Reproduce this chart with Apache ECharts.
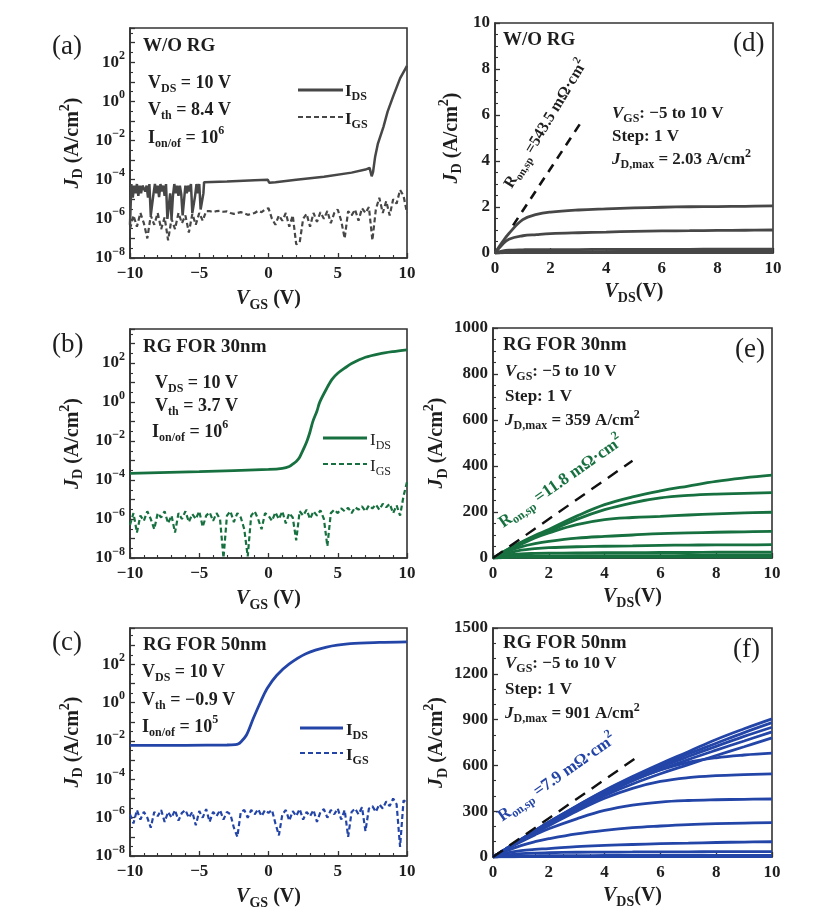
<!DOCTYPE html>
<html><head><meta charset="utf-8">
<script src="https://cdn.jsdelivr.net/npm/echarts@6/dist/echarts.min.js"></script>
<style>html,body{margin:0;padding:0;background:#fff}#c{width:831px;height:924px}</style>
</head><body><div id="c"></div>
<script>
// ---------- transfer characteristics (a,b,c): V_GS (V) vs J (A/cm^2) ----------
const vgsGrid = [
  -10,-9.75,-9.5,-9.25,-9,-8.75,-8.5,-8.25,-8,-7.75,
  -7.5,-7.25,-7,-6.75,-6.5,-6.25,-6,-5.75,-5.5,-5.25,
  -5,-4.75,-4.5,-4.25,-4,-3.75,-3.5,-3.25,-3,-2.75,
  -2.5,-2.25,-2,-1.75,-1.5,-1.25,-1,-0.75,-0.5,-0.25,
  0,0.25,0.5,0.75,1,1.25,1.5,1.75,2,2.25,
  2.5,2.75,3,3.25,3.5,3.75,4,4.25,4.5,4.75,
  5,5.25,5.5,5.75,6,6.25,6.5,6.75,7,7.25,
  7.5,7.75,8,8.25,8.5,8.75,9,9.25,9.5,9.75,
  10];

const vgsA = [
  -10,-9.9,-9.8,-9.7,-9.6,-9.5,-9.4,-9.3,-9.2,-9.1,
  -9,-8.9,-8.8,-8.7,-8.6,-8.5,-8.4,-8.3,-8.2,-8.1,
  -8,-7.9,-7.8,-7.7,-7.6,-7.5,-7.4,-7.3,-7.2,-7.1,
  -7,-6.9,-6.8,-6.7,-6.6,-6.5,-6.4,-6.3,-6.2,-6.1,
  -6,-5.9,-5.8,-5.7,-5.6,-5.5,-5.4,-5.3,-5.2,-5.1,
  -5,-4.9,-4.8,-4.7,
  -4.65,-3,-1,-0.05,0.05,0.5,2,4,6,7,7.3,7.45,7.55,7.7,7.9,8.3,8.6,9,9.5,10];
const idsA = [
  5e-7,6e-5,1.2e-5,5e-5,2e-5,6e-5,1.5e-5,5e-5,2e-5,5e-5,
  6e-5,2.5e-5,5e-5,1.2e-5,6e-5,1.5e-6,1.5e-6,2e-5,6e-5,2e-5,
  5e-5,1.3e-5,6e-5,2.5e-5,5e-5,1.5e-5,6e-5,1e-6,1e-6,2e-5,
  1e-6,1.5e-5,6e-5,2e-5,5e-5,1.5e-5,5e-5,1.8e-5,1.5e-6,1.5e-6,
  5e-5,2e-5,5e-5,2.5e-5,6e-5,2e-6,2e-6,1.5e-5,6e-5,2e-5,
  6e-5,3e-6,3e-6,2e-5,
  7.5e-5,8e-5,9.5e-5,1e-4,7e-5,7.5e-5,1e-4,1.4e-4,2.3e-4,3.3e-4,4e-4,1.5e-4,2.5e-4,1.5e-3,7e-3,5e-2,0.3,1.8,15,65];
const igsA = [
  3e-7,1.5e-6,4e-7,2e-6,6e-7,1e-7,1.5e-6,5e-7,2e-6,3e-7,
  1.2e-6,8e-8,1e-6,3e-7,2e-6,6e-7,1.5e-6,2e-7,1.8e-6,5e-7,
  2e-6,8e-7,2.5e-6,2.5e-6,2.2e-6,2.5e-6,2.6e-6,2.3e-6,2.4e-6,2e-6,
  1.8e-6,2e-6,2.2e-6,1.9e-6,1.6e-6,1.8e-6,2e-6,2.6e-6,2.2e-6,3e-6,
  3.5e-6,1e-6,5e-7,1.5e-6,8e-7,2e-6,4e-7,1.5e-6,5e-8,6e-8,
  1e-6,1.8e-6,4e-7,2e-6,7e-7,2.2e-6,1e-6,2.5e-6,6e-7,2e-6,
  3e-6,8e-7,1e-7,2.5e-6,1.5e-6,3e-6,8e-7,3.5e-6,2e-6,4e-6,
  8e-8,3e-6,1.2e-5,2e-6,8e-6,1.5e-6,1e-5,6e-6,3e-5,1.5e-5,
  2e-6];

const vgsB = [-10,-5,0,1,1.5,1.8,2,2.2,2.4,2.6,2.8,3,3.2,3.5,3.7,4.2,4.6,5,5.5,6,7,8,9,10];
const idsB = [2.2e-4,2.7e-4,3.5e-4,4e-4,5e-4,7e-4,9e-4,1.3e-3,2.5e-3,5e-3,1.1e-2,3e-2,0.1,0.35,1.0,5,15,30,55,95,200,300,390,480];
const igsB = [
  5e-7,2e-6,2e-7,1.5e-6,8e-7,2.5e-6,1e-6,3e-7,2e-6,1.2e-6,
  2.5e-6,6e-7,1.5e-6,2e-7,2e-6,1e-6,2.5e-6,7e-7,1.8e-6,1e-6,
  2.5e-6,4e-7,1.5e-6,2.2e-6,8e-7,2e-6,1e-6,1e-8,1.5e-6,2.5e-6,
  7e-7,2e-6,1.2e-6,3e-7,1.2e-8,1.5e-6,2.5e-6,1e-6,3e-7,2e-6,
  1.5e-6,8e-7,2.2e-6,1e-6,2.5e-6,6e-7,2e-6,1.2e-6,8e-8,2.5e-6,
  1.5e-6,3e-6,1e-6,2.5e-6,1.5e-6,2.8e-6,1e-6,4e-8,2e-6,3e-6,
  2e-6,3.5e-6,2.5e-6,3.8e-6,2e-6,4e-6,3e-6,4.5e-6,2.5e-6,5e-6,
  3.5e-6,5.5e-6,3e-6,6e-6,4e-6,6e-6,2e-6,5e-6,1.5e-6,1.5e-5,
  8e-5];

const vgsC = [-10,-6,-3,-2.4,-2.2,-2,-1.6,-1.1,-0.6,-0.1,0.6,1.5,2.7,4.2,5.9,8,10];
const idsC = [6e-3,6e-3,6.2e-3,6.5e-3,7e-3,9e-3,2e-2,0.15,1,5.5,27,105,360,800,1200,1400,1500];
const igsC = [
  1.5e-6,5e-7,2.5e-6,8e-7,2e-6,1e-6,3e-7,2e-6,1.2e-6,2.5e-6,
  6e-7,2e-6,1e-6,2.5e-6,7e-7,1.8e-6,2.5e-6,1e-6,2e-6,4e-7,
  2.2e-6,1e-6,2.8e-6,6e-7,2e-6,1.2e-6,2.5e-6,8e-7,2e-6,1.5e-6,
  3e-7,1e-7,2e-6,2.5e-6,1e-6,2.5e-6,1.5e-6,2.8e-6,1.2e-6,2.5e-6,
  1.8e-6,2.5e-6,5e-7,1.2e-7,1.5e-6,2.5e-6,7e-7,2.2e-6,1.2e-6,2.8e-6,
  8e-7,2e-6,1.2e-6,2.5e-6,6e-7,2e-6,2.8e-6,1e-6,2.5e-6,1.5e-6,
  3e-6,8e-7,2.5e-6,1e-7,2e-6,3e-6,1.5e-6,3.5e-6,2e-7,3e-6,
  4e-6,2e-6,5e-6,3e-6,7e-6,4e-6,1e-5,5e-6,3e-8,8e-6,
  6e-6];

// ---------- output characteristics (d,e,f): V_DS (V) vs J_D (A/cm^2) ----------
const vdsGrid = [0,0.25,0.5,1,1.5,2,3,4,5,6,7,8,9,10];
const outD = [
  [0,0.45,0.85,1.45,1.68,1.78,1.87,1.92,1.96,1.99,2.01,2.02,2.03,2.05],
  [0,0.35,0.6,0.75,0.8,0.84,0.88,0.91,0.94,0.96,0.97,0.98,0.99,1.0],
  [0,0.08,0.12,0.14,0.15,0.15,0.15,0.16,0.16,0.16,0.16,0.17,0.17,0.17],
  [0,0.03,0.05,0.06,0.06,0.06,0.06,0.06,0.07,0.07,0.07,0.07,0.07,0.07],
  [0,0.01,0.02,0.02,0.02,0.02,0.02,0.02,0.02,0.02,0.02,0.02,0.02,0.02]];
const outE = [
  [0,18,36,68,98,124,182,232,266,292,313,333,348,360],
  [0,17,35,66,94,116,168,210,240,261,272,278,281,284],
  [0,16,33,60,87,109,145,167,176,181,187,192,196,199],
  [0,14,28,48,62,72,86,94,100,106,109,112,114,116],
  [0,10,20,34,41,45,49,51,53,55,56,57,57,58],
  [0,7,13,18,20,21,22,23,23,24,24,25,25,25],
  [0,4,6,8,9,9,10,10,10,10,11,11,11,11],
  [0,1,2,3,3,3,3,4,4,4,4,4,4,4]];
const outF = [
  [0,28,57,115,172,229,335,436,527,611,690,770,840,905],
  [0,28,57,115,172,228,333,432,520,600,675,745,815,880],
  [0,28,57,114,170,226,330,426,512,588,658,725,790,850],
  [0,28,56,113,168,223,325,418,500,572,638,700,760,820],
  [0,27,55,110,164,217,316,402,478,545,605,665,722,780],
  [0,27,55,110,163,215,318,410,500,570,620,650,668,680],
  [0,27,54,108,158,205,300,385,450,495,520,533,540,545],
  [0,26,52,100,145,185,250,305,340,360,370,375,378,380],
  [0,22,42,75,100,120,152,175,192,203,212,218,222,225],
  [0,15,27,42,50,55,68,76,82,87,91,95,98,100],
  [0,8,14,22,26,28,31,32,33,34,34,35,35,35],
  [0,3,5,7,8,9,9,10,10,10,10,10,10,10],
  [0,1,1,2,2,2,3,3,3,3,3,3,3,3]];
const ronD = [[0.65,1.2],[3.05,5.6]];
const ronE = [[0,0],[5,423]];
const ronF = [[0,0],[5.25,665]];

// ---------- styling ----------
const FONT = 'Liberation Serif';
const INK = '#1e1e1e', AX = '#333';
const GRAY = '#474747', GREEN = '#17703f', BLUE = '#2445a8';

function rich(color, size) {
  const base = {fontFamily: FONT, fontWeight: 'bold', color: color, fill: color};
  const sm = Math.round(size * 0.68);
  return {
    b: Object.assign({}, base, {fontSize: size}),
    n: Object.assign({}, base, {fontWeight: 'normal', fontSize: size}),
    i: Object.assign({}, base, {fontStyle: 'italic', fontSize: size}),
    s: Object.assign({}, base, {fontSize: sm, padding: [Math.round(size * 0.6), 0, 0, 0]}),
    sn: Object.assign({}, base, {fontWeight: 'normal', fontSize: sm, padding: [Math.round(size * 0.6), 0, 0, 0]}),
    p: Object.assign({}, base, {fontSize: sm, padding: [0, 0, Math.round(size * 0.75), 0]})
  };
}
function txt(x, y, text, color, size, extra) {
  const el = {type: 'text', x: x, y: y, silent: true, z: 100,
    style: {text: text, fill: color, fontFamily: FONT, fontSize: size, fontWeight: 'bold',
      rich: rich(color, size), align: 'left', verticalAlign: 'middle'}};
  if (extra) { if (extra.rotation !== undefined) { el.rotation = extra.rotation; el.style.align = 'center'; } }
  return el;
}
function seg(x1, y1, x2, y2, color, dash) {
  return {type: 'line', silent: true, z: 100, shape: {x1: x1, y1: y1, x2: x2, y2: y2},
    style: {stroke: color, lineWidth: dash ? 2 : 2.8, lineDash: dash ? [5, 3] : null}};
}
const minus = v => v < 0 ? '\u2212' + (-v) : String(v);

const grids = [
  {left: 130, top: 28, width: 277, height: 230},
  {left: 130, top: 329, width: 277, height: 229},
  {left: 130, top: 628, width: 277, height: 228},
  {left: 495, top: 23, width: 278, height: 230},
  {left: 493, top: 328, width: 279, height: 230},
  {left: 493, top: 628, width: 279, height: 229}
].map(g => Object.assign(g, {show: true, borderColor: AX, borderWidth: 1.6, backgroundColor: 'transparent', outerBoundsMode: 'none', containLabel: false}));

function common(gi) {
  return {gridIndex: gi, type: 'value',
    axisLine: {show: true, onZero: false, lineStyle: {color: AX, width: 1.6}},
    axisTick: {show: true, inside: true, length: 5, lineStyle: {color: AX, width: 1.3}},
    minorTick: {show: true, length: 3, lineStyle: {color: AX, width: 1.1}},
    splitLine: {show: false}, minorSplitLine: {show: false}};
}
function xAx(gi, min, max, interval, split, nameTxt, gap) {
  const a = common(gi);
  Object.assign(a, {min: min, max: max, interval: interval});
  a.minorTick.splitNumber = split;
  a.axisLabel = {margin: 7, formatter: v => '{b|' + minus(v) + '}', rich: rich(INK, 17)};
  a.name = nameTxt; a.nameLocation = 'middle'; a.nameGap = gap;
  a.nameTextStyle = {rich: rich(INK, 20)};
  return a;
}
function logY(gi, max) {
  const a = common(gi);
  Object.assign(a, {min: -8, max: max, interval: 1});
  a.minorTick.splitNumber = 2;
  a.axisLabel = {margin: 5, formatter: v => (Number.isInteger(v) && v % 2 === 0) ? '{b|10}{p|' + minus(v) + '}' : '', rich: rich(INK, 17)};
  a.name = '{i|J}{s|D}{b| (A/cm}{p|2}{b|)}'; a.nameLocation = 'middle'; a.nameGap = 43; a.nameRotate = 90;
  a.nameTextStyle = {rich: rich(INK, 20)};
  return a;
}
function linY(gi, max, interval, split, gap) {
  const a = common(gi);
  Object.assign(a, {min: 0, max: max, interval: interval});
  a.minorTick.splitNumber = split;
  a.axisLabel = {margin: 5, formatter: v => '{b|' + v + '}', rich: rich(INK, 17)};
  a.name = '{i|J}{s|D}{b| (A/cm}{p|2}{b|)}'; a.nameLocation = 'middle'; a.nameGap = gap; a.nameRotate = 90;
  a.nameTextStyle = {rich: rich(INK, 20)};
  return a;
}

const VGS_NAME = '{i|V}{s|GS}{b| (V)}';
const VDS_NAME = '{i|V}{s|DS}{b|(V)}';
const xAxis = [
  xAx(0, -10, 10, 5, 5, VGS_NAME, 28),
  xAx(1, -10, 10, 5, 5, VGS_NAME, 28),
  xAx(2, -10, 10, 5, 5, VGS_NAME, 28),
  xAx(3, 0, 10, 2, 4, VDS_NAME, 26),
  xAx(4, 0, 10, 2, 4, VDS_NAME, 26),
  xAx(5, 0, 10, 2, 4, VDS_NAME, 26)
];
const yAxis = [
  logY(0, 3.75), logY(1, 3.75), logY(2, 3.9),
  linY(3, 10, 2, 4, 29), linY(4, 1000, 200, 4, 31), linY(5, 1500, 300, 3, 29)
];

const logPairs = (xs, ys) => xs.map((x, i) => [x, Math.log10(ys[i])]);
const pairs = (xs, ys) => xs.map((x, i) => [x, ys[i]]);
function line(gi, data, color, width, dash, smooth) {
  return {type: 'line', xAxisIndex: gi, yAxisIndex: gi, data: data, showSymbol: false, symbol: 'none',
    smooth: smooth || false, silent: true, animation: false, clip: true,
    lineStyle: {color: color, width: width, type: dash || 'solid'}};
}

const series = [
  line(0, logPairs(vgsA, idsA), GRAY, 2.5),
  line(0, logPairs(vgsGrid, igsA), GRAY, 2.2, [5, 3]),
  line(1, logPairs(vgsB, idsB), GREEN, 2.8, null, 0.3),
  line(1, logPairs(vgsGrid, igsB), GREEN, 2.2, [5, 3]),
  line(2, logPairs(vgsC, idsC), BLUE, 2.8, null, 0.3),
  line(2, logPairs(vgsGrid, igsC), BLUE, 2.2, [5, 3])
];
outD.forEach(c => series.push(line(3, pairs(vdsGrid, c), GRAY, 2.8, null, 0.4)));
outE.forEach(c => series.push(line(4, pairs(vdsGrid, c), GREEN, 2.8, null, 0.4)));
outF.forEach(c => series.push(line(5, pairs(vdsGrid, c), BLUE, 2.8, null, 0.4)));
series.push(line(3, ronD, '#111', 2.6, [9, 7]));
series.push(line(4, ronE, '#111', 2.4, [12, 8]));
series.push(line(5, ronF, '#111', 2.4, [12, 8]));

const deg = Math.PI / 180;
const graphic = [
  // (a)
  txt(52, 47, '{n|(a)}', INK, 27),
  txt(143, 46, '{b|W/O RG}', INK, 19),
  txt(148, 83, '{b|V}{s|DS}{b| = 10 V}', INK, 18),
  txt(148, 110, '{b|V}{s|th}{b| = 8.4 V}', INK, 18),
  txt(148, 138, '{b|I}{s|on/of}{b| = 10}{p|6}', INK, 18),
  seg(298, 90, 343, 90, GRAY, false), txt(345, 92, '{b|I}{s|DS}', INK, 17),
  seg(298, 117, 343, 117, GRAY, true), txt(345, 120, '{b|I}{s|GS}', INK, 17),
  // (b)
  txt(52, 345, '{n|(b)}', INK, 27),
  txt(143, 347, '{b|RG FOR 30nm}', INK, 19),
  txt(155, 383, '{b|V}{s|DS}{b| = 10 V}', INK, 18),
  txt(155, 406, '{b|V}{s|th}{b| = 3.7 V}', INK, 18),
  txt(152, 432, '{b|I}{s|on/of}{b| = 10}{p|6}', INK, 18),
  seg(323, 438, 367, 438, GREEN, false), txt(370, 441, '{n|I}{sn|DS}', INK, 17),
  seg(323, 464, 367, 464, GREEN, true), txt(370, 467, '{n|I}{sn|GS}', INK, 17),
  // (c)
  txt(52, 643, '{n|(c)}', INK, 27),
  txt(143, 645, '{b|RG FOR 50nm}', INK, 19),
  txt(142, 672, '{b|V}{s|DS}{b| = 10 V}', INK, 18),
  txt(142, 700, '{b|V}{s|th}{b| = \u22120.9 V}', INK, 18),
  txt(142, 727, '{b|I}{s|on/of}{b| = 10}{p|5}', INK, 18),
  seg(300, 728, 343, 728, BLUE, false), txt(346, 731, '{b|I}{s|DS}', INK, 17),
  seg(300, 753, 343, 753, BLUE, true), txt(346, 756, '{b|I}{s|GS}', INK, 17),
  // (d)
  txt(503, 40, '{b|W/O RG}', INK, 19),
  txt(733, 44, '{n|(d)}', INK, 27),
  txt(612, 114, '{i|V}{s|GS}{b|: \u22125 to 10 V}', INK, 17),
  txt(612, 137, '{b|Step: 1 V}', INK, 17),
  txt(612, 160, '{i|J}{s|D,max}{b| = 2.03 A/cm}{p|2}', INK, 17),
  txt(546, 124, '{b|R}{s|on,sp}{b| =543.5 m\u03a9\u00b7cm}{p|2}', INK, 16, {rotation: 59 * deg}),
  // (e)
  txt(503, 345, '{b|RG FOR 30nm}', INK, 19),
  txt(735, 350, '{n|(e)}', INK, 27),
  txt(505, 372, '{i|V}{s|GS}{b|: \u22125 to 10 V}', INK, 17),
  txt(505, 397, '{b|Step: 1 V}', INK, 17),
  txt(505, 421, '{i|J}{s|D,max}{b| = 359 A/cm}{p|2}', INK, 17),
  txt(561, 482, '{b|R}{s|on,sp}{b| =11.8 m\u03a9\u00b7cm}{p|2}', GREEN, 17, {rotation: 35 * deg}),
  // (f)
  txt(503, 643, '{b|RG FOR 50nm}', INK, 19),
  txt(733, 650, '{n|(f)}', INK, 27),
  txt(505, 664, '{i|V}{s|GS}{b|: \u22125 to 10 V}', INK, 17),
  txt(505, 690, '{b|Step: 1 V}', INK, 17),
  txt(505, 714, '{i|J}{s|D,max}{b| = 901 A/cm}{p|2}', INK, 17),
  txt(557, 778, '{b|R}{s|on,sp}{b| =7.9 m\u03a9\u00b7cm}{p|2}', BLUE, 17, {rotation: 35 * deg})
];

const chart = echarts.init(document.getElementById('c'), null, {renderer: 'canvas'});
chart.setOption({
  animation: false,
  backgroundColor: '#fff',
  grid: grids, xAxis: xAxis, yAxis: yAxis, series: series, graphic: graphic
});
</script></body></html>
